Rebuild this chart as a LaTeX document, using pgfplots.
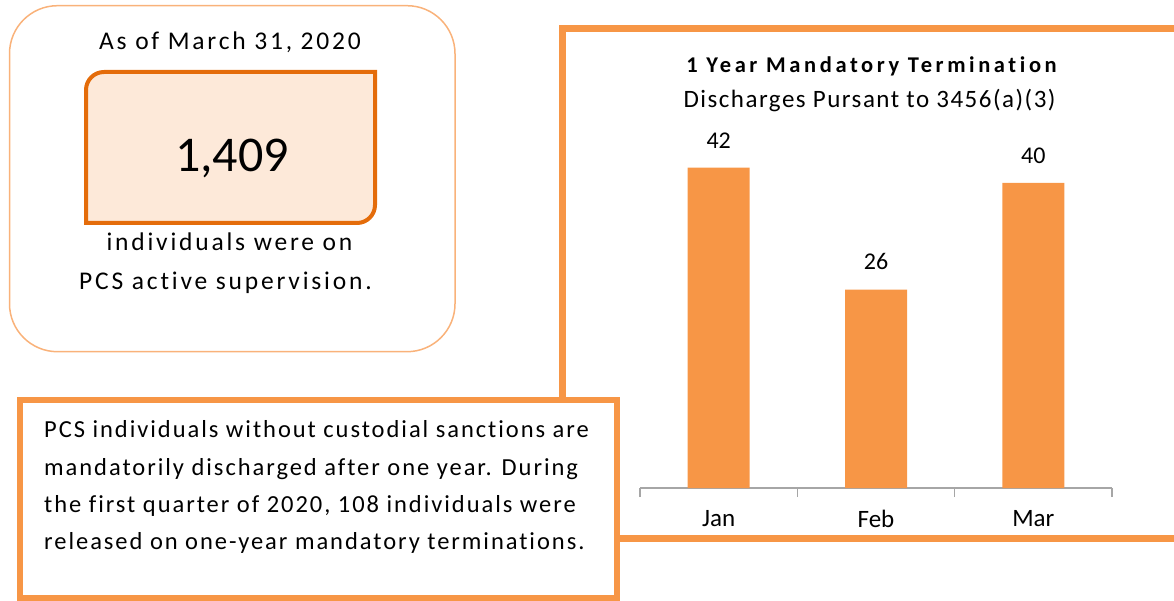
\documentclass[border=0pt]{standalone}
\usepackage{fontspec}
\setmainfont[Ligatures=NoCommon]{Carlito}
\newfontfamily\lsten[LetterSpace=11,Ligatures=NoCommon]{Carlito}
\newfontfamily\lseight[LetterSpace=8,Ligatures=NoCommon]{Carlito}
\newfontfamily\lssix[LetterSpace=6,Ligatures=NoCommon]{Carlito}
\newfontfamily\lstitle[LetterSpace=16,Ligatures=NoCommon]{Carlito}
\usepackage{pgfplots}
\pgfplotsset{compat=1.18}
\definecolor{barorange}{HTML}{F79646}
\definecolor{darkorange}{HTML}{E46C0A}
\definecolor{peach}{HTML}{FDE9D9}
\definecolor{lightorange}{HTML}{F9B27A}
\definecolor{axisgray}{HTML}{A6A6A6}
\begin{document}
\begin{tikzpicture}[x=1pt,y=1pt]
\useasboundingbox (0,0) rectangle (1174,600);
\begin{scope}
\clip (0,0) rectangle (1174,600);
% right chart frame
\draw[barorange, line width=7pt] (562,571.5) rectangle (1195,62);
% top-left rounded box
\draw[lightorange, line width=1.5pt, rounded corners=48pt] (9.5,594.3) rectangle (455,248.3);
% inner highlight box
\draw[darkorange, line width=4pt, fill=peach] (86,377) -- (86,510) arc[start angle=180, end angle=90, radius=18] -- (375,528) -- (375,395) arc[start angle=0, end angle=-90, radius=18] -- cycle;
% bottom-left text box
\draw[barorange, line width=6pt, fill=white] (20,200) rectangle (617,2.5);
\end{scope}
% texts in top-left box
\node[font=\lsten\fontsize{25.5}{30}\selectfont, anchor=base, inner sep=0pt] at (230,550) {As of March 31, 2020};
\node[font=\fontsize{50}{60}\selectfont, anchor=base, inner sep=0pt] at (232,428) {1,409};
\node[font=\lsten\fontsize{25.5}{30}\selectfont, anchor=base, inner sep=0pt] at (229.5,349) {individuals were on};
\node[font=\lsten\fontsize{25.5}{30}\selectfont, anchor=base, inner sep=0pt] at (225.5,310) {PCS active supervision.};
% bottom-left text
\node[font=\lseight\fontsize{24.5}{28}\selectfont, anchor=base west, inner sep=0pt] at (44,163) {PCS individuals without custodial sanctions are};
\node[font=\lseight\fontsize{24.5}{28}\selectfont, anchor=base west, inner sep=0pt] at (44,125) {mandatorily discharged after one year. During};
\node[font=\lseight\fontsize{24.5}{28}\selectfont, anchor=base west, inner sep=0pt] at (44,88) {the first quarter of 2020, 108 individuals were};
\node[font=\lseight\fontsize{24.5}{28}\selectfont, anchor=base west, inner sep=0pt] at (44,51) {released on one-year mandatory terminations.};
% chart titles
\node[font=\lstitle\bfseries\fontsize{22.5}{26}\selectfont, anchor=base, inner sep=0pt] at (871.5,527) {1 Year Mandatory Termination};
\node[font=\lssix\fontsize{25}{30}\selectfont, anchor=base, inner sep=0pt] at (869.5,492) {Discharges Pursant to 3456(a)(3)};
\begin{axis}[
  at={(640pt,112pt)}, anchor=south west, scale only axis,
  width=472pt, height=381.5pt,
  xmin=-0.5, xmax=2.5, ymin=0, ymax=50,
  axis y line=none, axis x line*=bottom,
  x axis line style={axisgray, line width=1.2pt, -},
  xtick={0,1,2}, xticklabels={Jan,Feb,Mar},
  major tick length=0pt,
  minor xtick={-0.5,0.5,1.5,2.5}, minor tick length=9pt,
  tick align=outside,
  every tick/.style={axisgray, line width=1.2pt},
  xticklabel style={font=\fontsize{25}{30}\selectfont, yshift=-19pt},
  ytick=\empty,
  ybar, bar width=62pt,
  nodes near coords,
  nodes near coords style={font=\fontsize{24}{28}\selectfont, yshift=16pt},
  /pgf/number format/assume math mode=true,
  clip=false]
\addplot[fill=barorange, draw=none] coordinates {(0,42) (1,26) (2,40)};
\end{axis}
\end{tikzpicture}
\end{document}
